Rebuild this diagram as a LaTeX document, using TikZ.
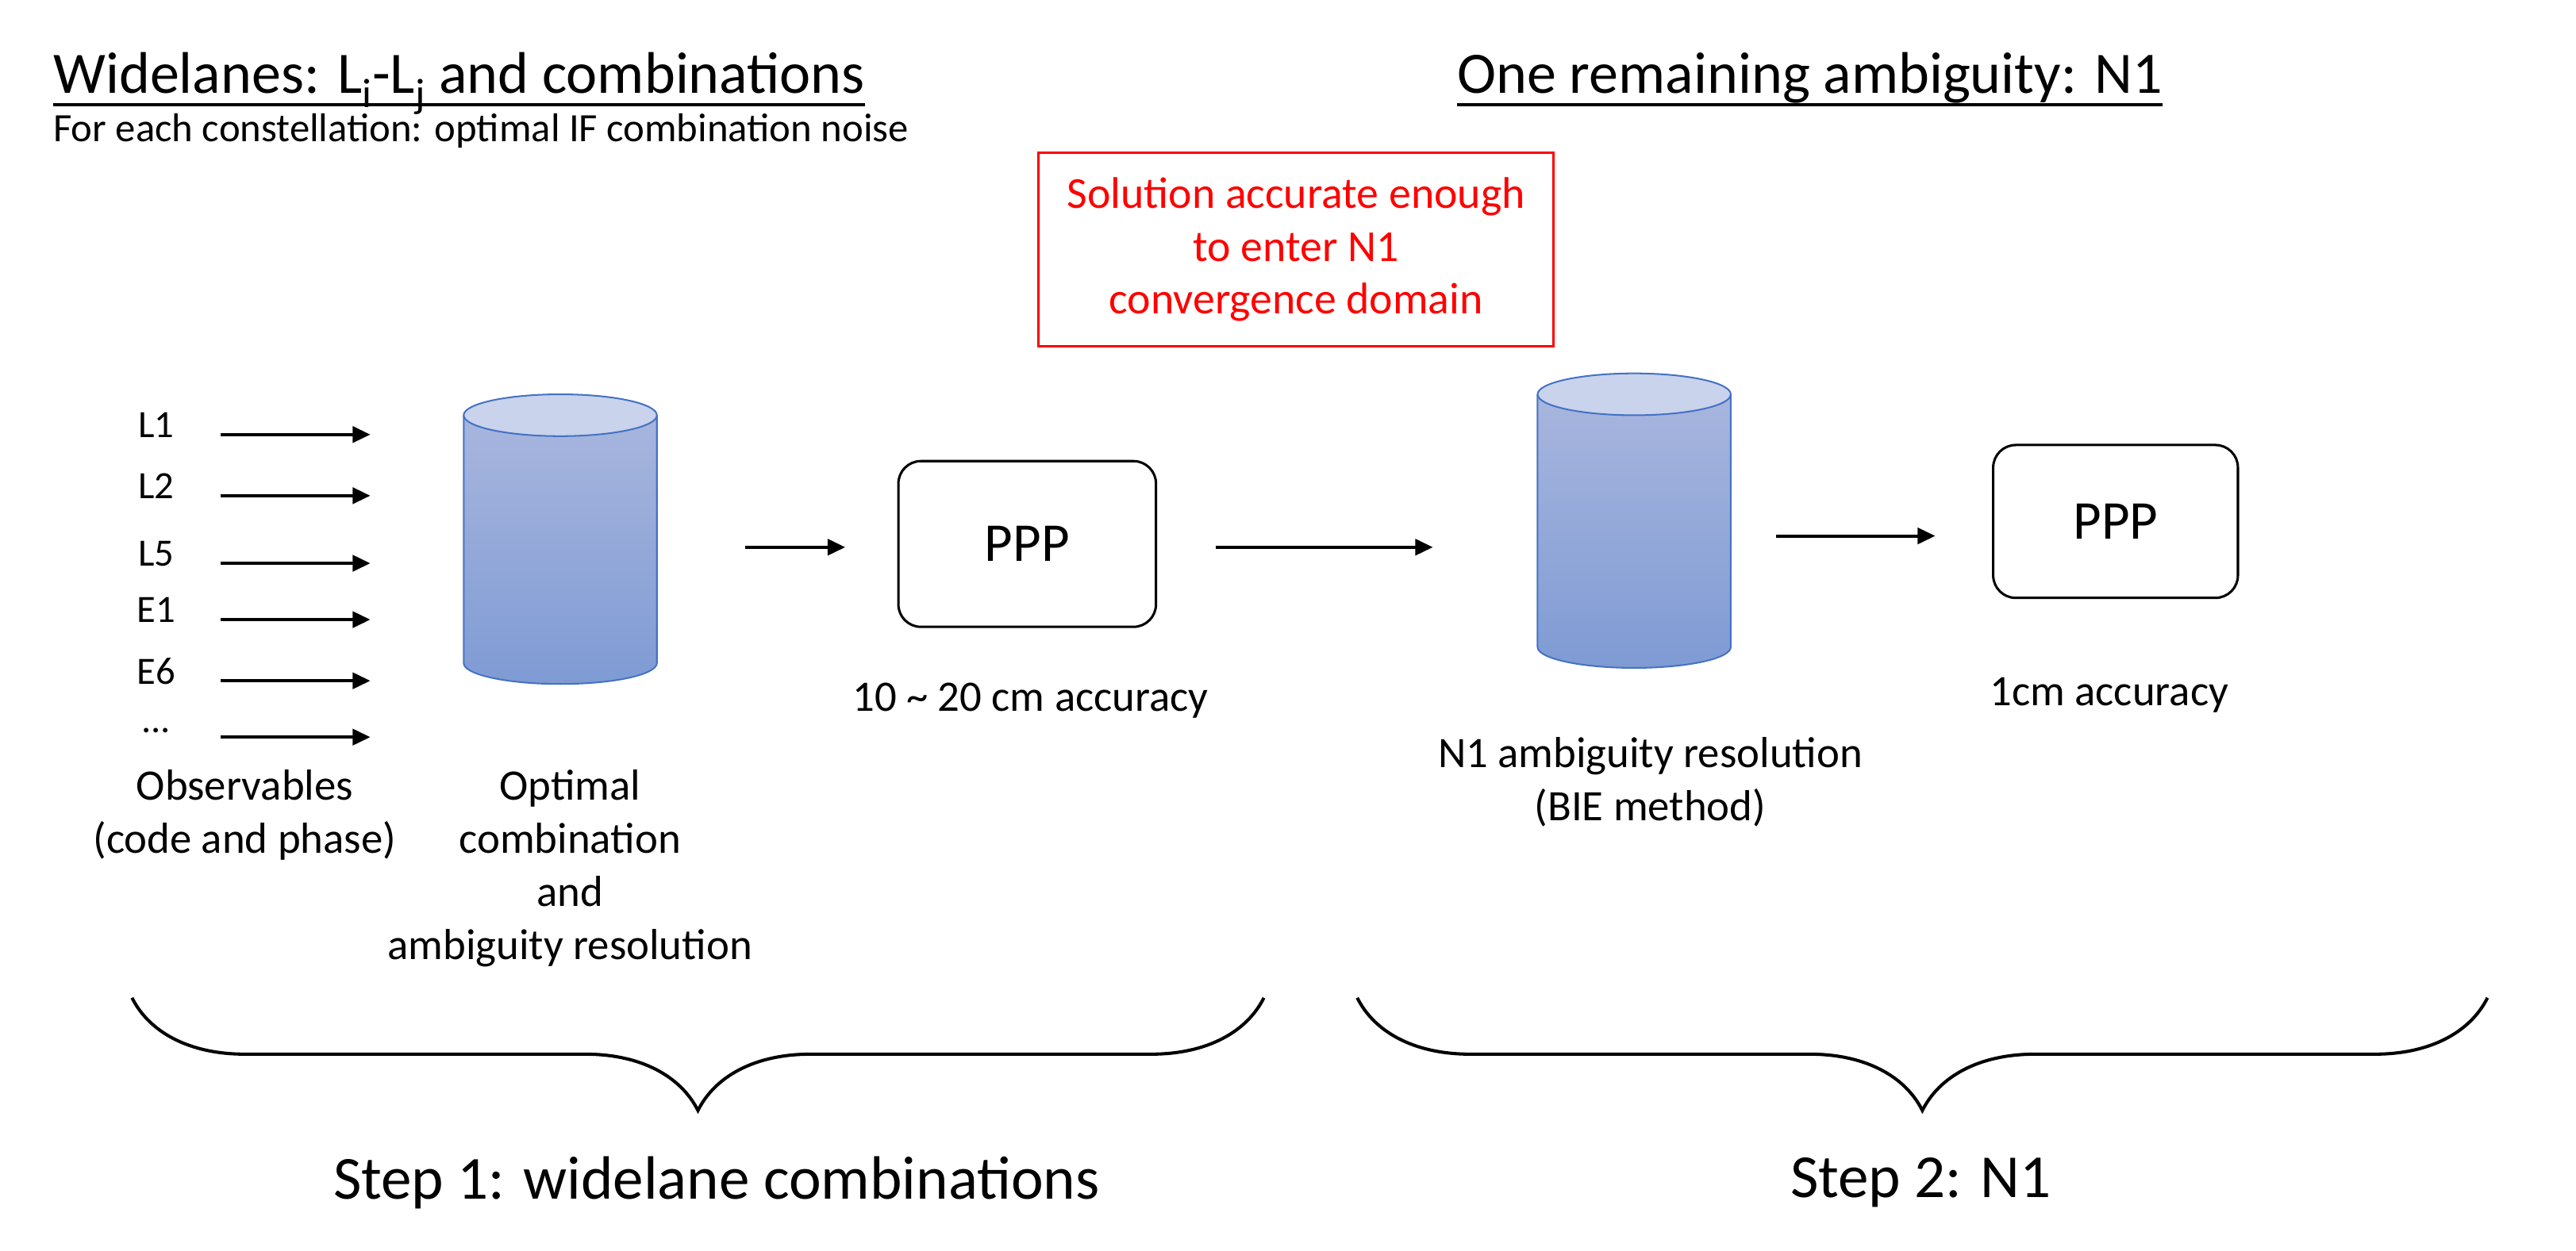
\documentclass[tikz,border=0pt]{standalone}
\usepackage{fontspec}
\setmainfont{Carlito}
\usetikzlibrary{arrows.meta,decorations.pathreplacing}
\definecolor{cylb}{HTML}{4472C4}
\definecolor{cyltop}{HTML}{C9D3EC}
\definecolor{cylhi}{HTML}{A8B6DE}
\definecolor{cyllo}{HTML}{7F9BD4}
\begin{document}
\begin{tikzpicture}[x=1pt,y=-1pt,
  lab/.style={font=\fontsize{24}{28}\selectfont,inner sep=0pt},
  arr/.style={-{Triangle[length=11pt,width=10pt]},line width=2pt},
  ppp/.style={draw,line width=1.5pt,rounded corners=14pt,font=\fontsize{34}{38}\selectfont},
  capt/.style={font=\fontsize{27}{33}\selectfont,align=center,inner sep=0pt,anchor=north},
  brc/.style={decorate,decoration={brace,mirror,amplitude=70pt,aspect=0.5},line width=2pt},
  uline/.style={line width=2pt}]
\useasboundingbox (0,0) rectangle (1600,777);
% titles
\node[anchor=base west,inner sep=0pt,font=\fontsize{36.5}{40}\selectfont] (t1) at (33,58) {Widelanes: L$_{\mathrm{i}}$-L$_{\mathrm{j}}$ and combinations};
\draw[uline] ([yshift=-7pt]t1.base west) -- ([yshift=-7pt]t1.base east);
\node[anchor=base west,inner sep=0pt,font=\fontsize{25}{28}\selectfont] (t1b) at (33,88) {For each constellation: optimal IF combination noise};
\node[anchor=base west,inner sep=0pt,font=\fontsize{36.5}{40}\selectfont] (t2) at (905,58) {One remaining ambiguity: N1};
\draw[uline] ([yshift=-7pt]t2.base west) -- ([yshift=-7pt]t2.base east);
% red box
\node[draw=red,line width=1.5pt,text=red,align=center,minimum width=320pt,minimum height=120pt,font=\fontsize{27.5}{33}\selectfont] (red) at (805,155) {Solution accurate enough\\to enter N1\\convergence domain};
% inputs
\foreach \t/\y/\n in {L1/270/a,L2/308/b,L5/350/c,E1/385/d,E6/423/e}{
  \node[lab] (l\n) at (97,\y-6) {\t};
  \coordinate (s\n) at (137,\y);
  \coordinate (e\n) at (230,\y);
  \draw[arr] (s\n) -- (e\n);
}
\node[lab] (lf) at (97,454) {...};
\coordinate (sf) at (137,458); \coordinate (ef) at (230,458);
\draw[arr] (sf) -- (ef);
% cylinders
\newcommand{\mycyl}[5]{% name, cx, top y, bottom y, rx
  \shade[top color=cylhi,bottom color=cyllo] (#2-#5,#3) -- (#2-#5,#4) arc[start angle=180,end angle=0,x radius=#5,y radius=13] -- (#2+#5,#3) -- cycle;
  \draw[cylb,line width=1pt] (#2-#5,#3) -- (#2-#5,#4) arc[start angle=180,end angle=0,x radius=#5,y radius=13] -- (#2+#5,#3);
  \draw[cylb,line width=1pt,fill=cyltop] (#2,#3) ellipse[x radius=#5,y radius=13];
  \coordinate (#1) at (#2,{(#3+#4)/2});
}
\mycyl{cyl1}{348}{258}{412}{60}
\mycyl{cyl2}{1015}{245}{402}{60}
\node[capt] (obs) at (152,478) {Observables\\(code and phase)};
\node[capt] (opt) at (354,478) {Optimal\\combination\\and\\ambiguity resolution};
% PPP 1
\node[ppp,minimum width=160pt,minimum height=103pt] (p1) at (638,338) {PPP};
\coordinate (a1s) at (463,340); \coordinate (a1e) at (525,340);
\draw[arr] (a1s) -- (a1e);
\node[capt] (acc1) at (640,424) {10 \textasciitilde{} 20 cm accuracy};
\coordinate (a2s) at (755,340); \coordinate (a2e) at (890,340);
\draw[arr] (a2s) -- (a2e);
\node[capt] (n1r) at (1025,458) {N1 ambiguity resolution\\(BIE method)};
% PPP 2
\coordinate (a3s) at (1103,333); \coordinate (a3e) at (1202,333);
\draw[arr] (a3s) -- (a3e);
\node[ppp,minimum width=152pt,minimum height=95pt] (p2) at (1314,324) {PPP};
\node[capt] (acc2) at (1310,421) {1cm accuracy};
% braces
\coordinate (b1a) at (82,620); \coordinate (b1b) at (785,620);
\coordinate (b2a) at (843,620); \coordinate (b2b) at (1545,620);
\draw[brc] (b1a) -- (b1b);
\draw[brc] (b2a) -- (b2b);
\node[font=\fontsize{38}{44}\selectfont,inner sep=0pt] (st1) at (445,735) {Step 1: widelane combinations};
\node[font=\fontsize{38}{44}\selectfont,inner sep=0pt] (st2) at (1193,735) {Step 2: N1};
\end{tikzpicture}
\end{document}
